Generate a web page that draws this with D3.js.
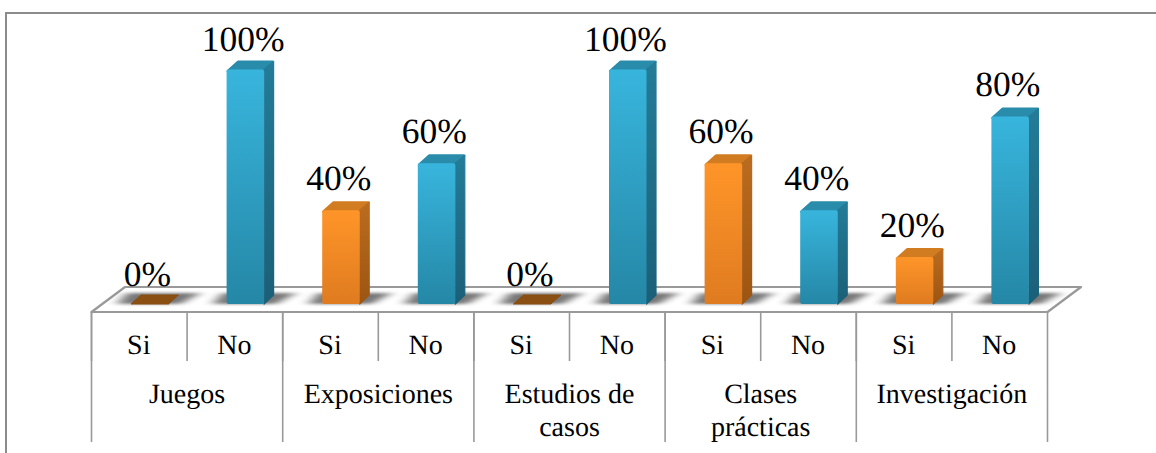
<!DOCTYPE html>
<html><head><meta charset="utf-8">
<script src="https://cdnjs.cloudflare.com/ajax/libs/d3/7.8.5/d3.min.js"></script>
<style>
html,body{margin:0;padding:0;background:#fff}
svg{display:block}
text{font-family:"Liberation Serif",serif;fill:#000;text-rendering:geometricPrecision}
</style></head><body>
<svg id="c" width="1156" height="453"></svg>
<script>
const groups = [["Juegos"],["Exposiciones"],["Estudios de","casos"],["Clases","prácticas"],["Investigación"]];
const answers = ["Si","No"];
const siValues = [0,40,0,60,20];
const noValues = [100,60,100,40,80];

const svg = d3.select("#c");
const W=1156,H=453;
const x0=91.5,x1=1047.5,floorFront=312,floorBack=287,depthX=33.5;
const base=304,top100=69.5;
const dx=10,dy=9,barW=37.5;

const rows = groups.flatMap((g,i)=>[
  {id:i+"-0",g:i,a:answers[0],v:siValues[i],key:"si"},
  {id:i+"-1",g:i,a:answers[1],v:noValues[i],key:"no"}]);

const xGroup = d3.scaleBand().domain(d3.range(groups.length)).range([x0,x1]);
const xSub = d3.scaleBand().domain(rows.map(d=>d.id)).range([x0,x1]);
const y = d3.scaleLinear().domain([0,100]).range([base,top100]);

const defs = svg.append("defs");
const grad=(id,stops)=>{const g=defs.append("linearGradient").attr("id",id).attr("x1",0).attr("x2",0).attr("y1",0).attr("y2",1);
  stops.forEach(([o,c])=>g.append("stop").attr("offset",o).attr("stop-color",c));};
grad("faceNo",[[0,"#38b5dd"],[1,"#2587a6"]]);
grad("sideNo",[[0,"#237c98"],[1,"#1b5f78"]]);
grad("faceSi",[[0,"#ff9529"],[1,"#df7b20"]]);
grad("sideSi",[[0,"#bb6c1f"],[1,"#9c5512"]]);
defs.append("filter").attr("id","blur").attr("x","-40%").attr("y","-80%").attr("width","180%").attr("height","260%")
  .append("feGaussianBlur").attr("stdDeviation","6 1.8");
defs.append("clipPath").attr("id","floorClip").append("path")
  .attr("d",`M${x0},${floorFront}L${x1},${floorFront}L${x1+depthX},${floorBack}L${x0+depthX},${floorBack}Z`);

// frame
svg.append("path").attr("d",`M6,${H}V13H${W}`).attr("fill","none").attr("stroke","#8c8c8c").attr("stroke-width",2);

// floor
svg.append("path").attr("d",`M${x0},${floorFront}L${x1},${floorFront}L${x1+depthX},${floorBack}L${x0+depthX},${floorBack}Z`)
  .attr("fill","#fff").attr("stroke","#999").attr("stroke-width",2.2).attr("stroke-linejoin","round");

const left = d=>xSub(d.id)+39.5;
const col = d=>d.key==="si"?"Si":"No";

// shadows
svg.append("g").attr("clip-path","url(#floorClip)").selectAll("path").data(rows).join("path")
  .attr("d",d=>{const l=left(d);return `M${l-14},${base}L${l+barW+12},${base}L${l+barW+dx+22},${base-11}L${l-4},${base-11}Z`;})
  .attr("fill","#555").attr("opacity",.8).attr("filter","url(#blur)");

const bars = svg.append("g").selectAll("g").data(rows).join("g");
// top faces (inset so the rounded stroke stays within the bar outline)
bars.append("path").attr("class","top")
  .attr("d",d=>{const l=left(d),t=y(d.v),i=d.v===0?0:1.5;return `M${l+i},${t+i}L${l+barW},${t+i}L${l+barW+dx-i},${t-dy+i}L${l+dx+i},${t-dy+i}Z`;})
  .attr("fill",d=>d.v===0?"#8a4f12":(d.key==="si"?"#d27c22":"#2a8cab"))
  .attr("stroke",d=>d.v===0?"#8a4f12":(d.key==="si"?"#d27c22":"#2a8cab"))
  .attr("stroke-width",d=>d.v===0?1:3).attr("stroke-linejoin","round");
bars.filter(d=>d.v>0).append("path")
  .attr("d",d=>{const l=left(d),t=y(d.v);return `M${l+barW},${t}L${l+barW+dx-.5},${t-dy+1}L${l+barW+dx-.5},${base-dy}L${l+barW},${base}Z`;})
  .attr("fill",d=>`url(#side${col(d)})`).attr("stroke",d=>`url(#side${col(d)})`).attr("stroke-width",1.2).attr("stroke-linejoin","round");
bars.filter(d=>d.v>0).append("rect")
  .attr("x",left).attr("y",d=>y(d.v)).attr("width",barW).attr("height",d=>base-y(d.v)).attr("rx",2)
  .attr("fill",d=>`url(#face${col(d)})`);

// value labels
svg.append("g").selectAll("text").data(rows).join("text")
  .attr("x",d=>xSub(d.id)+56).attr("y",d=>y(d.v)-((d.v===0||d.v===100)?18.5:20.5))
  .attr("text-anchor","middle").attr("font-size",35.5).text(d=>d.v+"%");

// axis separators
svg.append("g").selectAll("line").data(rows).join("line")
  .attr("x1",d=>xSub(d.id)).attr("x2",d=>xSub(d.id)).attr("y1",floorFront).attr("y2",361)
  .attr("stroke","#999").attr("stroke-width",1.6);
svg.append("g").selectAll("line").data(d3.range(groups.length+1)).join("line")
  .attr("x1",i=>i<groups.length?xGroup(i):x1).attr("x2",i=>i<groups.length?xGroup(i):x1)
  .attr("y1",floorFront).attr("y2",442).attr("stroke","#999").attr("stroke-width",1.6);

// axis labels
svg.append("g").selectAll("text").data(rows).join("text")
  .attr("x",d=>xSub(d.id)+xSub.bandwidth()/2-0.5).attr("y",354)
  .attr("text-anchor","middle").attr("font-size",28).text(d=>d.a);
const gl=svg.append("g").selectAll("text").data(groups).join("text")
  .attr("text-anchor","middle").attr("font-size",28)
  .attr("x",(d,i)=>xGroup(i)+xGroup.bandwidth()/2);
gl.selectAll("tspan").data((d,i)=>d.map(s=>({s,i}))).join("tspan")
  .attr("x",d=>xGroup(d.i)+xGroup.bandwidth()/2)
  .attr("y",(d,j)=>403+j*33).text(d=>d.s);
</script>
</body></html>
